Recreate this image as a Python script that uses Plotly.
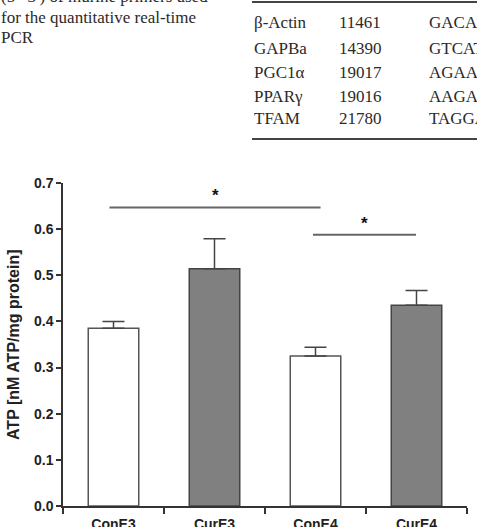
import plotly.graph_objects as go

# ---- data ----
categories = ["ConE3", "CurE3", "ConE4", "CurE4"]
atp_mean = [0.385, 0.514, 0.325, 0.435]
atp_sem = [0.015, 0.065, 0.019, 0.032]
bar_fill = ["#ffffff", "#808080", "#ffffff", "#808080"]
bar_line = ["#555555", "#444444", "#555555", "#444444"]

# significance brackets: (x start, x end, y) in data units
sig_x0 = [-0.04, 1.975]
sig_x1 = [2.05, 2.995]
sig_y = [0.647, 0.588]
sig_label = ["*", "*"]

# table fragment above the chart
caption_lines = ["(5′–3′) of murine primers used", "for the quantitative real-time", "PCR"]
gene_names = ["β-Actin", "GAPBa", "PGC1α", "PPARγ", "TFAM"]
gene_ids = ["11461", "14390", "19017", "19016", "21780"]
gene_seq = ["GACAG", "GTCAT", "AGAAG", "AAGAC", "TAGGA"]

W, H = 477, 527
L, R, T, B = 63, 10, 183, 21
PW, PH = W - L - R, H - T - B


def px(xp):
    return (xp - L) / PW


def py(yp):
    return (H - B - yp) / PH


fig = go.Figure()
fig.add_trace(go.Bar(
    x=categories, y=atp_mean, width=0.5,
    marker=dict(color=bar_fill, line=dict(color=bar_line, width=1.5)),
    error_y=dict(type="data", symmetric=False, array=atp_sem,
                 arrayminus=[0] * len(atp_sem), color="#444444",
                 thickness=1.5, width=11),
    showlegend=False,
))

shapes = []
annotations = []
for x0, x1, y, lab in zip(sig_x0, sig_x1, sig_y, sig_label):
    shapes.append(dict(type="line", xref="x", yref="y", x0=x0, x1=x1, y0=y, y1=y,
                       line=dict(color="#666666", width=2)))
    annotations.append(dict(xref="x", yref="y", x=(x0 + x1) / 2, y=y, text=lab,
                            showarrow=False, yanchor="bottom", yshift=0,
                            font=dict(family="Liberation Sans", size=17,
                                      color="#111111", weight="bold")))

# y axis title
annotations.append(dict(xref="paper", yref="paper", x=px(13), y=py(345),
                        text="ATP [nM ATP/mg protein]", textangle=-90,
                        showarrow=False, xanchor="center", yanchor="middle",
                        font=dict(family="Liberation Sans", size=16,
                                  color="#222222", weight="bold")))

serif = dict(family="Liberation Serif", size=17, color="#2a2a2a")
cap_y = [-3.5, 17.5, 38]
for t, yc in zip(caption_lines, cap_y):
    annotations.append(dict(xref="paper", yref="paper", x=px(-1), y=py(yc),
                            text=t, showarrow=False, xanchor="left",
                            yanchor="middle", font=serif))

row_y = [22, 48, 72, 96, 119]
col_x = [253, 338, 428]
for cols in zip(gene_names, gene_ids, gene_seq, row_y):
    for cx, t in zip(col_x, cols[:3]):
        annotations.append(dict(xref="paper", yref="paper", x=px(cx - 1),
                                y=py(cols[3]), text=t, showarrow=False,
                                xanchor="left", yanchor="middle", font=serif))

for yr in [2, 139]:
    shapes.append(dict(type="line", xref="paper", yref="paper", x0=px(252), x1=px(480),
                       y0=py(yr), y1=py(yr), line=dict(color="#444444", width=2)))

axis_font = dict(family="Liberation Sans", size=14, color="#222222", weight="bold")
fig.update_layout(
    width=W, height=H,
    margin=dict(l=L, r=R, t=T, b=B, pad=0, autoexpand=False),
    paper_bgcolor="white", plot_bgcolor="white",
    shapes=shapes, annotations=annotations,
    xaxis=dict(range=[-0.5, 3.5], tickson="boundaries", ticks="outside", ticklen=6,
               tickwidth=1.5, tickcolor="#333333", showline=True, linecolor="#333333",
               linewidth=1.5, showgrid=False, zeroline=False, tickfont=axis_font,
               ticklabelstandoff=4, automargin=False, fixedrange=True),
    yaxis=dict(range=[0, 0.7], dtick=0.1, tickformat=".1f", ticks="outside",
               ticklen=5, tickwidth=1.5, tickcolor="#333333", showline=True,
               linecolor="#333333", linewidth=1.5, showgrid=False, zeroline=False,
               tickfont=axis_font, automargin=False, fixedrange=True),
)

fig.write_html("out.html", config={"displayModeBar": False})
